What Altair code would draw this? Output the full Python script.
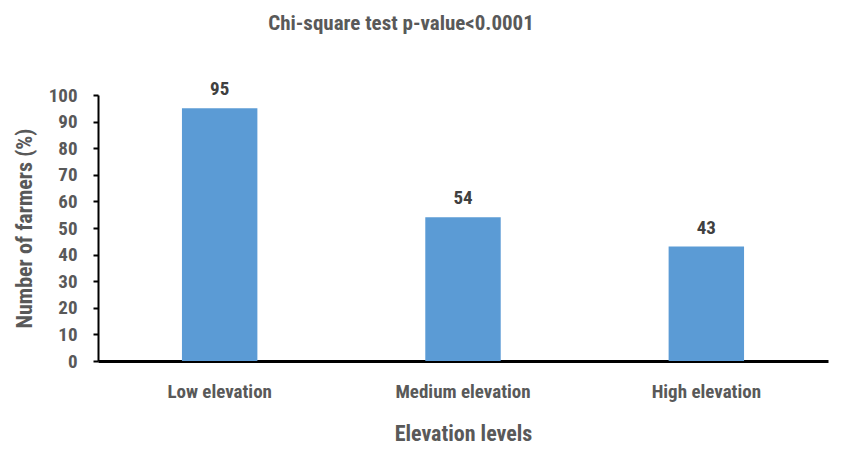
import altair as alt
import pandas as pd

categories = ["Low elevation", "Medium elevation", "High elevation"]
values = [95, 54, 43]
y_ticks = [0, 10, 20, 30, 40, 50, 60, 70, 80, 90, 100]

df = pd.DataFrame({"level": categories, "value": values})

FONT = "Liberation Sans Narrow, Roboto Condensed, Liberation Sans, sans-serif"
GREY = "#595959"

base = alt.Chart(df).encode(
    x=alt.X("level:N", sort=categories,
            scale=alt.Scale(paddingInner=0.69, paddingOuter=0.345),
            axis=alt.Axis(title="Elevation levels", labelAngle=0, labelFont=FONT,
                          labelFontSize=19, labelFontWeight="bold", labelColor=GREY,
                          titleFont=FONT, titleFontSize=22, titleFontWeight="bold",
                          titleColor=GREY, titlePadding=22, labelPadding=21,
                          domainColor="black", domainWidth=3, ticks=False)),
    y=alt.Y("value:Q", scale=alt.Scale(domain=[0, 100]),
            axis=alt.Axis(title="Number of farmers (%)", values=y_ticks,
                          tickCount=11, labelOverlap=False,
                          labelFont=FONT, labelFontSize=19, labelFontWeight="bold",
                          labelColor=GREY, titleFont=FONT, titleFontSize=22,
                          titleFontWeight="bold", titleColor=GREY, titlePadding=12,
                          domainColor="black", domainWidth=2, tickColor="black",
                          tickWidth=2, tickSize=5, grid=False, labelPadding=16)),
)

bars = base.mark_bar(color="#5B9BD5")

text = base.mark_text(dy=-19, font=FONT, fontSize=19, fontWeight="bold",
                      color="#404040").encode(text=alt.Text("value:Q"))

chart = (bars + text).properties(
    width=730, height=266,
    autosize=alt.AutoSizeParams(type="none"),
    padding={"left": 90, "top": 87, "right": 10, "bottom": 100},
    title=alt.TitleParams("Chi-square test p-value<0.0001", font=FONT, fontSize=21,
                          fontWeight="bold", color=GREY, offset=46, dx=-62,
                          anchor="middle"),
).configure_view(stroke=None)

chart.save("out.html", embed_options={"renderer": "svg", "actions": False})
